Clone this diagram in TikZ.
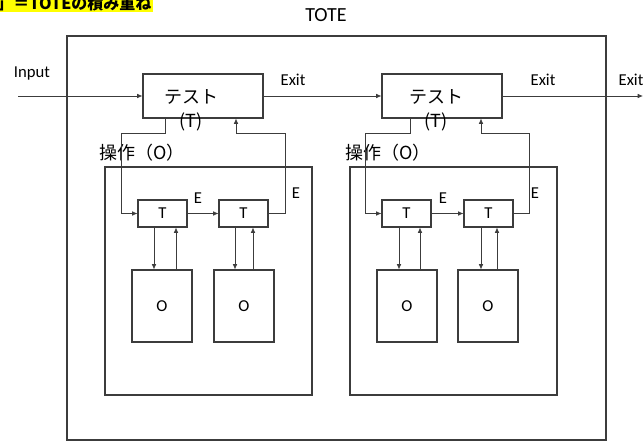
\documentclass[tikz,border=0pt]{standalone}
\usepackage{fontspec}
\setmainfont{Carlito}
\newfontfamily\jp{Noto Sans CJK JP}
\usetikzlibrary{arrows.meta,positioning}
\definecolor{linegray}{RGB}{60,60,60}
\definecolor{marker}{RGB}{255,255,0}
\tikzset{
  box/.style={
    draw=linegray,
    line width=0.8pt,
    inner sep=0pt,
    font=\fontsize{12.5}{14}\selectfont
  },
  testbox/.style={box, minimum width=90pt, minimum height=33pt},
  tbox/.style={box, minimum width=36.75pt, minimum height=20.25pt},
  obox/.style={box, minimum width=45pt, minimum height=54pt},
  opbox/.style={box, minimum width=155.25pt, minimum height=171pt},
  lbl/.style={font=\fontsize{12.5}{14}\selectfont, inner sep=0pt},
  jlbl/.style={font=\jp\fontsize{13.5}{18}\selectfont, inner sep=0pt, align=center},
  arrow/.style={-{Latex[length=4pt,width=3.5pt]}, line width=0.6pt, draw=linegray},
  wire/.style={line width=0.6pt, draw=linegray}
}

\begin{document}
\begin{tikzpicture}[x=0.75pt, y=-0.75pt]
  \useasboundingbox (0,0) rectangle (644,445);
  \clip (0,0) rectangle (644,445);
  % heading and frame
  \node[fill=marker, inner sep=1pt, anchor=south east,
        font=\jp\bfseries\fontsize{12}{14}\selectfont] (head) at (153,12.5) {」＝TOTEの積み重ね};
  \node[lbl, font=\fontsize{15}{17}\selectfont] (totelbl) at (326,15) {TOTE};
  \node[box, minimum width=404.25pt, minimum height=303pt] (tote) at (336.5,238) {};
  % test boxes
  \node[testbox] (test1) at (203,96) {};
  \node[testbox] (test2) at (442,96) {};
  \node[jlbl] (test1lbl) at (191,110) {テスト\\(T)};
  \node[jlbl] (test2lbl) at (436,110) {テスト\\(T)};
  \coordinate (in) at (18,96);
  \coordinate (out) at (643,96);
  \draw[arrow] (in) -- (test1.west);
  \draw[arrow] (test1.east) -- (test2.west);
  \draw[arrow] (test2.east) -- (out);
  \node[lbl] (inlbl) at (32,73) {Input};
  \node[lbl] (exit1) at (293,80) {Exit};
  \node[lbl] (exit2) at (543,80) {Exit};
  \node[lbl] (exit3) at (631,80) {Exit};
  % operation blocks
  \node[opbox] (op1) at (208.5,281) {};
  \node[opbox] (op2) at (453.5,281) {};
  \node[jlbl, anchor=west] (op1lbl) at (99,153) {操作（O）};
  \node[jlbl, anchor=west] (op2lbl) at (345,153) {操作（O）};
  \node[tbox] (T1) at (162.5,213.5) {T};
  \node[tbox] (T2) at (243.5,213.5) {T};
  \node[tbox] (T3) at (406.5,213.5) {T};
  \node[tbox] (T4) at (488.5,213.5) {T};
  \node[obox] (O1) at (162,306) {O};
  \node[obox] (O2) at (244,306) {O};
  \node[obox] (O3) at (407,306) {O};
  \node[obox] (O4) at (488,306) {O};
  % test -> operate -> test loops
  \draw[arrow] ([xshift=-28.5pt]test1.south) -- ++(0,15) -| ([xshift=-12pt]T1.west) -- (T1.west);
  \draw[arrow] (T1.east) -- (T2.west);
  \draw[arrow] (T2.east) -- ++(17,0) -- ++(0,-80.5) -| ([xshift=24.75pt]test1.south);
  \draw[arrow] ([xshift=-24pt]test2.south) -- ++(0,15) -| ([xshift=-12pt]T3.west) -- (T3.west);
  \draw[arrow] (T3.east) -- (T4.west);
  \draw[arrow] (T4.east) -- ++(16,0) -- ++(0,-80.5) -| ([xshift=29.25pt]test2.south);
  \node[lbl] (e1) at (198,198) {E};
  \node[lbl] (e2) at (296,193) {E};
  \node[lbl] (e3) at (443,198) {E};
  \node[lbl] (e4) at (535,193) {E};
  % T <-> O
  \draw[arrow] ([xshift=-6.375pt]T1.south) -- ([xshift=-6.375pt]T1.south |- O1.north);
  \draw[arrow] ([xshift=10.125pt]T1.south |- O1.north) -- ([xshift=10.125pt]T1.south);
  \draw[arrow] ([xshift=-6.375pt]T2.south) -- ([xshift=-6.375pt]T2.south |- O2.north);
  \draw[arrow] ([xshift=7.125pt]T2.south |- O2.north) -- ([xshift=7.125pt]T2.south);
  \draw[arrow] ([xshift=-5.625pt]T3.south) -- ([xshift=-5.625pt]T3.south |- O3.north);
  \draw[arrow] ([xshift=10.125pt]T3.south |- O3.north) -- ([xshift=10.125pt]T3.south);
  \draw[arrow] ([xshift=-5.625pt]T4.south) -- ([xshift=-5.625pt]T4.south |- O4.north);
  \draw[arrow] ([xshift=6.375pt]T4.south |- O4.north) -- ([xshift=6.375pt]T4.south);
\end{tikzpicture}
\end{document}
